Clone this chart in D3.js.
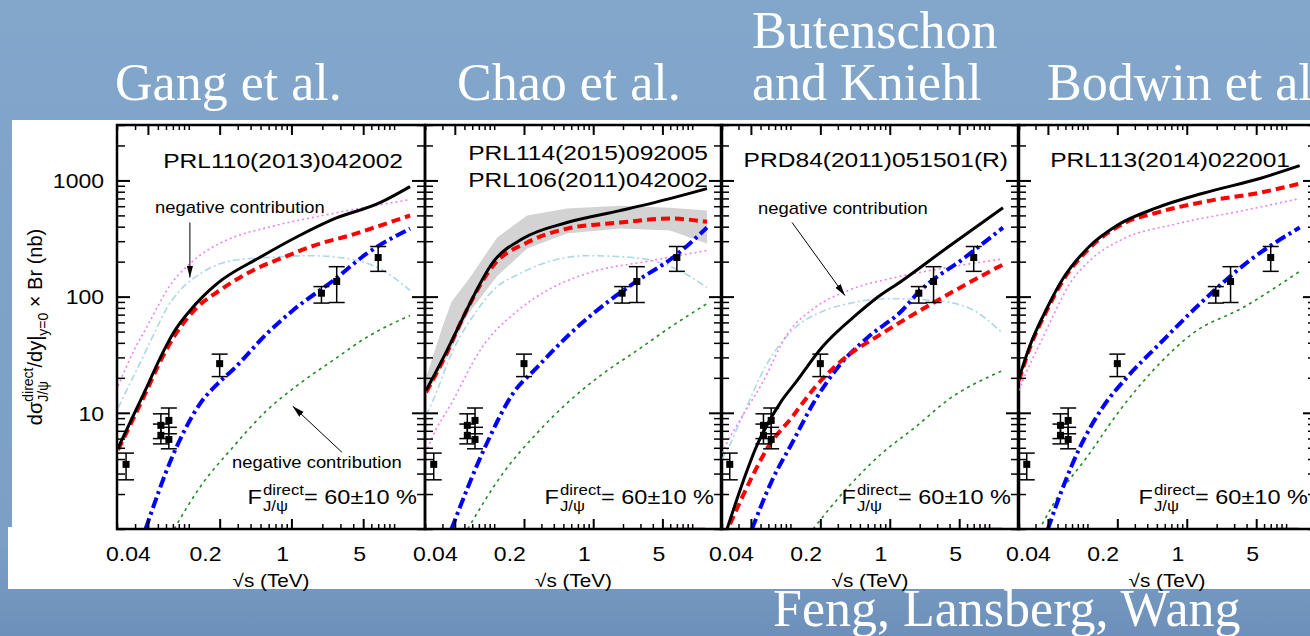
<!DOCTYPE html>
<html>
<head>
<meta charset="utf-8">
<title>Direct J/psi cross section vs sqrt(s)</title>
<script src="https://cdn.jsdelivr.net/npm/d3@7"></script>
<style>
  body { margin: 0; background: #7a9fc5; }
  svg { display: block; }
  .sans { font-family: "Liberation Sans", Arial, Helvetica, sans-serif; }
  .serif { font-family: "Liberation Serif", "Times New Roman", serif; }
</style>
</head>
<body>
<script>
// ---- values ----
var panelTitles = [["Gang et al."], ["Chao et al."], ["Butenschon", "and Kniehl"], ["Bodwin et al."]];
var footTitle = "Feng, Lansberg, Wang";
var refLabels = [["PRL110(2013)042002"], ["PRL114(2015)092005", "PRL106(2011)042002"],
                 ["PRD84(2011)051501(R)"], ["PRL113(2014)022001"]];
var xTickValues = [0.04, 0.2, 1, 5];
var xTickLabels = ["0.04", "0.2", "1", "5"];
var yTickValues = [10, 100, 1000];
var yTickLabels = ["10", "100", "1000"];

// measured direct J/psi points (TeV, nb)
var expSqrtS   = [0.0245, 0.0535, 0.0535, 0.064, 0.064, 0.2, 1.96, 2.76, 7];
var expSigma   = [3.6, 7.8, 6.4, 8.6, 5.9, 26.5, 107, 135, 217];
var expErrUp   = [0.9, 2.0, 1.6, 2.4, 1.6, 5.5, 15, 46, 53];
var expErrDown = [0.95, 1.8, 1.0, 2.0, 1.0, 6, 19, 46, 52];

// curves, one entry per panel: [sqrt(s), value]
var total = [   // black solid
  [[0.0205,5.0],[0.0267,8.2],[0.039,16.6],[0.052,29],[0.07,48],[0.103,76],[0.137,100],[0.19,130],[0.49,217],[1.2,336],[2.5,460],[7.3,644],[14.3,885]],
  [[0.0205,15.6],[0.0334,34.5],[0.045,58],[0.054,80],[0.097,197],[0.195,316],[0.544,434],[1.87,550],[5.96,698],[14.1,850]],
  [[0.023,1],[0.0472,5.5],[0.082,12.8],[0.111,17.9],[0.208,36.7],[0.48,72],[0.71,95],[1.33,137],[3.8,265],[13.8,583]],
  [[0.0205,20],[0.0264,38],[0.039,79],[0.0568,143],[0.102,265],[0.198,409],[0.503,583],[1.46,776],[5.45,1040],[13.7,1340]]
];
var coTotal = [ // red dashed
  [[0.0205,4.8],[0.039,15.6],[0.052,27],[0.07,43.6],[0.12,80.6],[0.2,113],[0.42,168],[0.83,217],[1.9,286],[3.7,336],[7.3,409],[14.3,499]],
  [[0.0205,15],[0.0334,33],[0.0484,66],[0.102,193],[0.215,292],[0.544,385],[1.87,434],[5.96,470],[14.1,440]],
  [[0.0246,1.1],[0.041,2.8],[0.0594,5.06],[0.104,9.2],[0.177,16.6],[0.33,28.3],[0.84,48.3],[2.66,87],[6.1,130],[13.8,189]],
  [[0.0205,19],[0.0264,36.5],[0.039,76],[0.0568,138],[0.102,255],[0.228,424],[0.503,529],[1.72,670],[5.45,785],[13.7,938]]
];
var csm = [     // blue dash-dot
  [[0.038,1],[0.07,4.3],[0.129,12],[0.2,18.5],[0.269,23.5],[0.577,48],[1.03,76],[2.54,137],[5.4,234],[14.3,385]],
  [[0.037,1],[0.0845,5.5],[0.155,14.7],[0.271,24.6],[0.585,48],[1.09,76],[2.79,137],[6.4,217],[14.1,393]],
  [[0.041,1],[0.065,2.6],[0.104,5.5],[0.177,12.8],[0.3,24.6],[0.6,44.6],[1.33,76],[1.93,108],[5.7,217],[13.8,393]],
  [[0.04,1],[0.0568,2.3],[0.0842,5.06],[0.143,11.2],[0.25,20.2],[0.54,39.7],[1.36,87],[4.3,205],[13.7,393]]
];
var co1S0 = [   // violet dotted
  [[0.0205,17],[0.03,36],[0.04,57],[0.049,80],[0.061,113],[0.103,193],[0.15,249],[0.27,323],[0.58,393],[2.5,518],[14.3,684]],
  [[0.0205,4.5],[0.0224,5.5],[0.0384,12.8],[0.072,34.5],[0.18,78],[0.342,113],[0.86,158],[4,205],[14.1,249]],
  [[0.0205,4.5],[0.023,5.5],[0.0325,9.2],[0.0518,17.9],[0.094,48.3],[0.177,80.6],[0.381,113],[1.13,146],[3.8,178],[13.8,211]],
  [[0.0205,15.6],[0.0224,19],[0.0357,44.6],[0.045,68],[0.0668,130],[0.106,205],[0.212,304],[0.8,424],[3.69,550],[13.7,698]]
];
var co3PJ = [   // light blue dash-dot
  [[0.0205,11],[0.023,13.6],[0.035,29],[0.05,56],[0.0613,80],[0.082,113],[0.13,158],[0.27,205],[0.58,217],[1.6,225],[3.7,211],[7.8,168],[14.3,113]],
  [[0.0205,9.5],[0.0241,12.8],[0.0384,34.5],[0.067,76],[0.097,113],[0.182,158],[0.393,205],[0.86,225],[2.51,217],[6.4,178],[14.1,120]],
  [[0.0205,4],[0.023,4.76],[0.0349,10.5],[0.0554,24.6],[0.104,51],[0.22,76],[0.381,87],[0.96,96],[2.66,93],[6.1,80.6],[13.5,49]],
  []
];
var co3S1 = [   // green dotted
  [[0.072,1],[0.129,2.3],[0.269,5.06],[0.577,10.5],[1.21,17.9],[2.54,28.3],[5.4,44.6],[14.3,68.9]],
  [[0.054,1],[0.123,3.03],[0.271,6.7],[0.585,12.8],[1.26,21.8],[2.79,34.5],[5.96,54.3],[14.1,87]],
  [[0.169,1],[0.381,2.3],[0.838,4.5],[1.8,7.5],[3.8,12.8],[13.5,23]],
  [[0.035,1.1],[0.053,2.04],[0.099,4.16],[0.212,10.5],[0.459,23.2],[1.15,48.3],[3.69,80.6],[13.7,165]]
];
// uncertainty band, Chao et al. panel only
var bandUpper = [[0.0205,20],[0.03,55],[0.037,90],[0.057,146],[0.107,323],[0.215,499],[0.544,572],[1.87,607],[5.96,583],[14.1,550]];
var bandLower = [[0.0205,14],[0.0334,30],[0.054,70],[0.107,150],[0.215,259],[0.544,349],[1.87,385],[5.96,371],[14.1,286]];
// small salmon strip sitting on the bottom axis (x range per panel)
var lowStrip = [null, [5, 13.5], [8.5, 13.5], [8.3, 13.4]];

// annotations in data units
var notes = [
  {panel: 0, text: "negative contribution", at: [0.047, 529], from: [0.1026, 434], to: [0.1026, 146]},
  {panel: 0, text: "negative contribution", at: [0.264, 3.34], from: [3.1, 4.58], to: [1.03, 11.4]},
  {panel: 2, text: "negative contribution", at: [0.0472, 518], from: [0.104, 434], to: [0.354, 102]}
];

// ---- layout ----
var W = 1310, H = 636;
var panelLeft = [117, 425, 721, 1018];
var panelRight = [425, 722, 1019, 1316];
var plotTop = 125, plotBottom = 529;
var refRightPad = [22, 14, 11, 26];
var refBaseline = [43, 35, 42, 42];
var SX = 1.15;   // the slide stretched the plot text horizontally

var styles = [
  {data: co3S1,   stroke: "#228b22", width: 1.6, dash: "3,4"},
  {data: co3PJ,   stroke: "#add8e6", width: 1.6, dash: "7,3,2,3"},
  {data: co1S0,   stroke: "#ee82ee", width: 1.6, dash: "2,3"},
  {data: csm,     stroke: "#0000ff", width: 4,   dash: "11,4,3,4"},
  {data: coTotal, stroke: "#ff0000", width: 4,   dash: "9,5"},
  {data: total,   stroke: "#000000", width: 3,   dash: null}
];

var svg = d3.select("body").append("svg").attr("width", W).attr("height", H);
var defs = svg.append("defs");

var grad = defs.append("linearGradient").attr("id", "bg").attr("x1", 0).attr("y1", 0).attr("x2", 0).attr("y2", 1);
grad.append("stop").attr("offset", "0").attr("stop-color", "#83a7cb");
grad.append("stop").attr("offset", "0.85").attr("stop-color", "#7b9fc5");
grad.append("stop").attr("offset", "1").attr("stop-color", "#6c90b9");

defs.append("marker").attr("id", "arrow").attr("viewBox", "0 0 12 8")
    .attr("refX", 12).attr("refY", 4).attr("markerWidth", 12).attr("markerHeight", 8)
    .attr("markerUnits", "userSpaceOnUse").attr("orient", "auto")
  .append("path").attr("d", "M0,0.8 L12,4 L0,7.2 Z").attr("fill", "#000");

svg.append("rect").attr("width", W).attr("height", H).attr("fill", "url(#bg)");

// white area the plot was pasted on
svg.append("rect").attr("x", 12).attr("y", 120).attr("width", W - 12).attr("height", 469).attr("fill", "#fff");
svg.append("rect").attr("x", 8).attr("y", 527).attr("width", 10).attr("height", 62).attr("fill", "#fff");

// titles
var titleSpots = [[[115, 100]], [[457, 100]], [[752, 48], [752, 100]], [[1047, 100]]];
panelTitles.forEach(function(lines, i) {
  lines.forEach(function(t, j) {
    svg.append("text").attr("class", "serif").attr("x", titleSpots[i][j][0]).attr("y", titleSpots[i][j][1])
      .attr("font-size", 52).attr("fill", "#fff").text(t);
  });
});
svg.append("text").attr("class", "serif").attr("x", 773).attr("y", 626)
  .attr("font-size", 52).attr("fill", "#fff").text(footTitle);

// text runs with stacked super/subscripts
function richText(parent, runs, anchor) {
  var outer = parent.append("g");
  var inner = outer.append("g");
  var cx = 0;
  runs.forEach(function(r) {
    var parts = r.stack || [r];
    var w = 0;
    parts.forEach(function(p) {
      var t = inner.append("text").attr("class", "sans").attr("x", cx).attr("y", p.dy || 0)
        .attr("font-size", r.size).style("white-space", "pre").text(p.t);
      w = Math.max(w, t.node().getComputedTextLength());
    });
    cx += w + (r.gap || 0);
  });
  var shift = anchor === "end" ? -cx : anchor === "middle" ? -cx / 2 : 0;
  inner.attr("transform", "translate(" + shift + ",0)");
  return outer;
}

function near(a, b) { return Math.abs(Math.log10(a) - Math.log10(b)) < 1e-6; }

panelLeft.forEach(function(L, i) {
  var R = panelRight[i];
  var x = d3.scaleLog().domain([0.02, 20]).range([L, R]);
  var y = d3.scaleLog().domain([1, 3000]).range([plotBottom, plotTop]);
  var g = svg.append("g");

  defs.append("clipPath").attr("id", "clip" + i)
    .append("rect").attr("x", L).attr("y", plotTop).attr("width", R - L).attr("height", plotBottom - plotTop);
  var plot = g.append("g").attr("clip-path", "url(#clip" + i + ")");

  var line = d3.line().x(function(d) { return x(d[0]); }).y(function(d) { return y(d[1]); })
    .curve(d3.curveMonotoneX);

  if (i === 1) {
    var poly = bandUpper.concat(bandLower.slice().reverse());
    plot.append("path")
      .attr("d", d3.line().x(function(d) { return x(d[0]); }).y(function(d) { return y(d[1]); })(poly) + "Z")
      .attr("fill", "#d3d3d3").attr("stroke", "none");
  }

  if (lowStrip[i]) {
    plot.append("rect").attr("x", x(lowStrip[i][0])).attr("y", y(1.035))
      .attr("width", x(lowStrip[i][1]) - x(lowStrip[i][0])).attr("height", y(1) - y(1.035))
      .attr("fill", "#f4a3a3");
  }

  styles.forEach(function(s) {
    var pts = s.data[i];
    if (!pts.length) return;
    plot.append("path").attr("d", line(pts)).attr("fill", "none")
      .attr("stroke", s.stroke).attr("stroke-width", s.width)
      .attr("stroke-dasharray", s.dash);
  });

  // data points
  var pts = plot.append("g");
  expSqrtS.forEach(function(s, k) {
    var px = x(s), top = y(expSigma[k] + expErrUp[k]), bot = y(expSigma[k] - expErrDown[k]);
    pts.append("line").attr("x1", px).attr("x2", px).attr("y1", top).attr("y2", bot)
      .attr("stroke", "#000").attr("stroke-width", 1.5);
    [top, bot].forEach(function(yy) {
      pts.append("line").attr("x1", px - 8).attr("x2", px + 8).attr("y1", yy).attr("y2", yy)
        .attr("stroke", "#000").attr("stroke-width", 1.5);
    });
    pts.append("rect").attr("x", px - 3.5).attr("y", y(expSigma[k]) - 3.5)
      .attr("width", 7).attr("height", 7).attr("fill", "#000");
  });

  // annotations
  notes.filter(function(n) { return n.panel === i; }).forEach(function(n) {
    g.append("text").attr("class", "sans").attr("font-size", 16)
      .attr("transform", "translate(" + x(n.at[0]) + "," + y(n.at[1]) + ") scale(" + SX + ",1)")
      .text(n.text);
    g.append("line").attr("x1", x(n.from[0])).attr("y1", y(n.from[1]))
      .attr("x2", x(n.to[0])).attr("y2", y(n.to[1]))
      .attr("stroke", "#000").attr("stroke-width", 1).attr("marker-end", "url(#arrow)");
  });

  // inward ticks on all four sides
  var xMinor = x.ticks().filter(function(v) { return !xTickValues.some(function(m) { return near(v, m); }); });
  var yMinor = y.ticks().filter(function(v) { return !yTickValues.some(function(m) { return near(v, m); }); });
  function ticks(axis, tx, ty, vals, size, sw) {
    g.append("g").attr("transform", "translate(" + tx + "," + ty + ")")
      .call(axis.tickValues(vals).tickSize(-size).tickFormat(""))
      .call(function(a) { a.select(".domain").remove(); })
      .selectAll("line").attr("stroke", "#000").attr("stroke-width", sw);
  }
  ticks(d3.axisBottom(x), 0, plotBottom, xMinor, 5, 1.5);
  ticks(d3.axisBottom(x), 0, plotBottom, xTickValues, 10, 2);
  ticks(d3.axisTop(x), 0, plotTop, xMinor, 5, 1.5);
  ticks(d3.axisTop(x), 0, plotTop, xTickValues, 10, 2);
  ticks(d3.axisLeft(y), L, 0, yMinor, 8, 1.5);
  ticks(d3.axisLeft(y), L, 0, yTickValues, 13, 2);
  ticks(d3.axisRight(y), R, 0, yMinor, 8, 1.5);
  ticks(d3.axisRight(y), R, 0, yTickValues, 13, 2);

  g.append("rect").attr("x", L).attr("y", plotTop).attr("width", R - L).attr("height", plotBottom - plotTop)
    .attr("fill", "none").attr("stroke", "#000").attr("stroke-width", 2.5);

  // tick labels sit a little left of their ticks in the original
  var xl = d3.scaleLog().domain([0.04, 5]).range([x(0.04) - 20, x(5) - 4]);
  g.append("g").attr("transform", "translate(0,561)")
    .call(d3.axisBottom(xl).tickValues(xTickValues).tickSize(0)
      .tickFormat(function(d, j) { return xTickLabels[j]; }))
    .call(function(a) { a.select(".domain").remove(); })
    .selectAll("text").attr("y", 0).attr("dy", 0).attr("class", "sans")
    .attr("font-size", 20).attr("fill", "#000").attr("transform", "scale(" + SX + ",1)");

  g.append("text").attr("class", "sans").attr("font-size", 18).attr("text-anchor", "middle")
    .attr("transform", "translate(" + (L + R) / 2 + ",587) scale(" + SX + ",1)")
    .text("\u221As (TeV)");

  // reference label(s)
  refLabels[i].forEach(function(t, j) {
    g.append("text").attr("class", "sans").attr("font-size", 21).attr("text-anchor", "end")
      .attr("transform", "translate(" + (R - refRightPad[i]) + "," + (plotTop + refBaseline[i] + 27 * j) + ") scale(1.17,1)")
      .text(t);
  });

  // fraction label
  richText(g, [
    {t: "F", size: 21, gap: 1},
    {stack: [{t: "direct", dy: -9}, {t: "J/\u03C8", dy: 7}], size: 15},
    {t: "= 60\u00B110 %", size: 21}
  ], "end").attr("transform", "translate(" + (R - 8) + ",504) scale(1.12,1)");

  if (i === 0) {
    g.append("g").attr("transform", "translate(104,0)")
      .call(d3.axisLeft(y).tickValues(yTickValues).tickSize(0)
        .tickFormat(function(d, j) { return yTickLabels[j]; }))
      .call(function(a) { a.select(".domain").remove(); })
      .selectAll("text").attr("x", 0).attr("dy", "0.36em").attr("class", "sans")
      .attr("font-size", 20).attr("fill", "#000").attr("transform", "scale(" + SX + ",1)");

    richText(g, [
      {t: "d\u03C3", size: 20},
      {stack: [{t: "direct", dy: -9}, {t: "J/\u03C8", dy: 6}], size: 14},
      {t: "/dy|", size: 20},
      {t: "y=0", size: 14, dy: 6},
      {t: " \u00D7 Br (nb)", size: 20}
    ], "middle").attr("transform", "translate(42,327) rotate(-90)");
  }
});
</script>
</body>
</html>
